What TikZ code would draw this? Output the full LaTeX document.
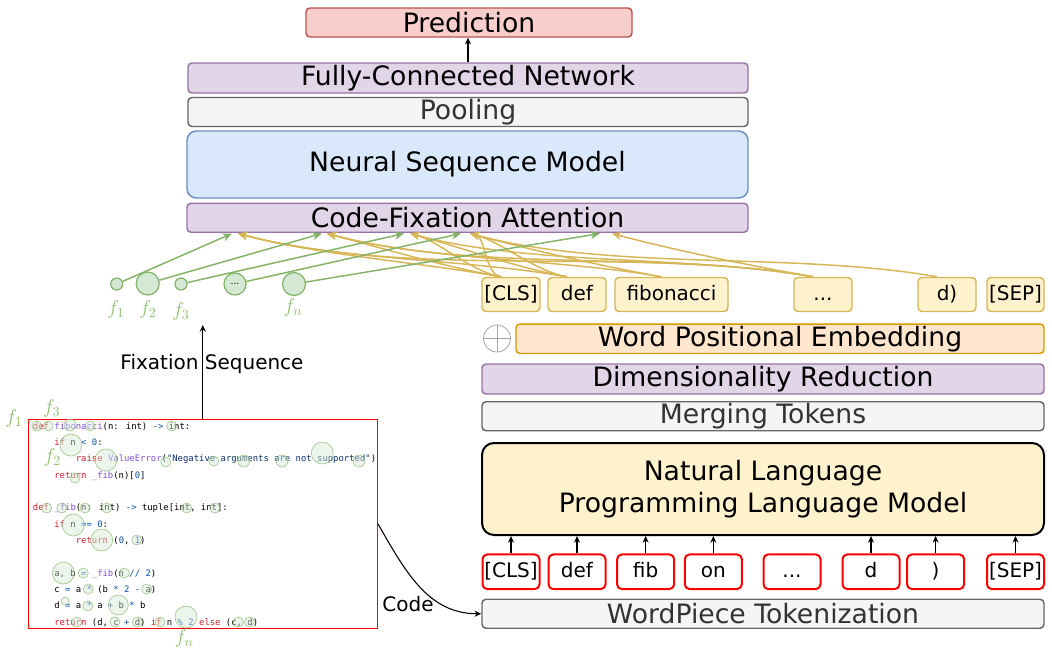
\RequirePackage{fix-cm}
\documentclass[tikz,border=0pt]{standalone}
\usepackage[no-math]{fontspec}
\setmainfont{DejaVu Sans}
\newfontfamily\codefont{DejaVu Sans Mono}
\usetikzlibrary{arrows.meta,calc}
\definecolor{purF}{HTML}{E1D5E7}\definecolor{purS}{HTML}{9673A6}
\definecolor{predF}{HTML}{F8CECC}\definecolor{predS}{HTML}{B85450}
\definecolor{grayF}{HTML}{F5F5F5}\definecolor{grayS}{HTML}{666666}\definecolor{grayT}{HTML}{333333}
\definecolor{blueF}{HTML}{DAE8FC}\definecolor{blueS}{HTML}{6C8EBF}
\definecolor{orgF}{HTML}{FFE6CC}\definecolor{orgS}{HTML}{D79B00}
\definecolor{yelF}{HTML}{FFF2CC}\definecolor{yelS}{HTML}{D6B656}
\definecolor{grnF}{HTML}{D5E8D4}\definecolor{grnS}{HTML}{82B366}\definecolor{grnT}{HTML}{8DC26F}
\definecolor{redS}{HTML}{FF0000}
\definecolor{kwc}{HTML}{CF222E}\definecolor{fnc}{HTML}{8250DF}
\definecolor{numc}{HTML}{0550AE}\definecolor{strc}{HTML}{0A3069}
\newcommand\ckw[1]{\textcolor{kwc}{#1}}
\newcommand\cfn[1]{\textcolor{fnc}{#1}}
\newcommand\cnum[1]{\textcolor{numc}{#1}}
\newcommand\cstr[1]{\textcolor{strc}{#1}}
\begin{document}
\begin{tikzpicture}[x=0.75pt,y=-0.75pt,
  box/.style={draw, rounded corners=3pt, line width=1.1pt, inner sep=0pt,
    font=\fontsize{20}{24}\selectfont},
  purbox/.style={box, fill=purF, draw=purS},
  graybox/.style={box, fill=grayF, draw=grayS, text=grayT},
  ytok/.style={draw=yelS, fill=yelF, rounded corners=3pt, line width=1.1pt, inner sep=0pt,
    minimum width=43.5pt, minimum height=25.5pt, text height=11.5pt, text depth=3pt,
    font=\fontsize{15}{18}\selectfont},
  rtok/.style={draw=redS, fill=white, rounded corners=3.5pt, line width=1.5pt, inner sep=0pt,
    minimum width=42.75pt, minimum height=25.9pt, text height=11.5pt, text depth=3pt,
    font=\fontsize{15}{18}\selectfont},
  fixc/.style={circle, draw=grnS, fill=grnF, line width=0.9pt, inner sep=0pt},
  flab/.style={text=grnT, inner sep=0pt, font=\fontsize{15}{18}\selectfont},
  lbl/.style={inner sep=0pt, font=\fontsize{15}{18}\selectfont},
  arr/.style={draw=black, line width=0.8pt, -{Stealth[length=5pt,width=4.5pt]}},
  garr/.style={draw=grnS, line width=1.1pt, -{Stealth[length=7pt,width=6pt,inset=2pt]}},
  att/.style={draw=yelS, line width=1.1pt, -{Stealth[length=7pt,width=6pt,inset=2pt]}},
  codeln/.style={anchor=base west, inner sep=0pt, font=\codefont\fontsize{6.68}{8}\selectfont},
  cfix/.style={draw=grnS, fill=grnF, line width=0.5pt, fill opacity=0.45, draw opacity=0.7}
]
\useasboundingbox (0,0) rectangle (1052,654);

% ---- top stack
\node[box, fill=predF, draw=predS, minimum width=244.5pt, minimum height=21.75pt] (pred) at (469,22.5) {Prediction};
\node[purbox, minimum width=420pt, minimum height=22.5pt] (fcn) at (468,78) {Fully-Connected Network};
\node[graybox, minimum width=420pt, minimum height=21.75pt] (pool) at (468,112) {Pooling};
\node[box, fill=blueF, draw=blueS, rounded corners=7pt, minimum width=420.75pt, minimum height=50.25pt] (nsm) at (467.5,164.5) {Neural Sequence Model};
\node[purbox, minimum width=420.75pt, minimum height=21.75pt] (cfa) at (467.5,217.75) {Code-Fixation Attention};
\draw[arr] (fcn.north) -- (fcn.north |- pred.south);

% ---- targets on attention block
\coordinate (tg1) at (232,233.5);
\coordinate (tg2) at (322,233.5);
\coordinate (tg3) at (404,233.5);
\coordinate (tg4) at (461,233.5);
\coordinate (tg5) at (600,233.5);
\coordinate (ty1) at (238,233.5);
\coordinate (ty2) at (327,233.5);
\coordinate (ty3) at (410,233.5);
\coordinate (ty4) at (470,233.5);
\coordinate (ty5) at (612,233.5);

% ---- fixation circles
\node[fixc, minimum size=9pt] (fx1) at (116.7,284) {};
\node[fixc, minimum size=17.25pt] (fx2) at (147.7,283.5) {};
\node[fixc, minimum size=9pt] (fx3) at (181,284) {};
\node[fixc, minimum size=16.5pt, font=\fontsize{7}{8}\selectfont] (fxd) at (235,284) {...};
\node[fixc, minimum size=17.25pt] (fxn) at (294,284) {};
\node[flab] (lf1) at (116,309) {$f_1$};
\node[flab] (lf2) at (148,309) {$f_2$};
\node[flab] (lf3) at (181,311) {$f_3$};
\node[flab] (lfn) at (293,307) {$f_n$};

% ---- word tokens (yellow)
\node[ytok] (ycls) at (511,294.5) {[CLS]};
\node[ytok] (ydef) at (577,294.5) {def};
\node[ytok, minimum width=84.75pt] (yfib) at (671.5,294.5) {fibonacci};
\node[ytok] (ydots) at (823,294.5) {...};
\node[ytok] (yd) at (947,294.5) {d)};
\node[ytok, minimum width=42.75pt] (ysep) at (1015.5,294.5) {[SEP]};

% ---- attention connectors (yellow)
\foreach \s/\t in {ycls/ty1, ycls/ty2, ycls/ty3, ycls/ty4,
                   ydef/ty1, ydef/ty3, ydef/ty4,
                   yfib/ty2, yfib/ty4,
                   ydots/ty1, ydots/ty2, ydots/ty3, ydots/ty5,
                   yd/ty4}
  \draw[att] ($(\s.north)+(-10,0)$) to[out=170,in=-15,looseness=0.8] (\t);

% ---- fixation connectors (green)
\draw[garr] (fx1) -- (tg1);
\draw[garr] (fx2) -- (tg2);
\draw[garr] (fx3) -- (tg3);
\draw[garr] (fxd) -- (tg4);
\draw[garr] (fxn) -- (tg5);

% ---- right stack
\node[circle, draw=gray!70, line width=0.6pt, minimum size=20.25pt, inner sep=0pt] (op) at (497,338.5) {};
\draw[gray!70, line width=0.6pt] (op.north) -- (op.south) (op.west) -- (op.east);
\node[box, fill=orgF, draw=orgS, minimum width=396pt, minimum height=22.1pt] (wpe) at (780,338.75) {Word Positional Embedding};
\node[purbox, minimum width=421.5pt, minimum height=22.5pt] (dr) at (763,379) {Dimensionality Reduction};
\node[graybox, minimum width=421.5pt, minimum height=21.75pt] (merge) at (763,416.25) {Merging Tokens};
\node[box, fill=yelF, draw=black, line width=1.5pt, rounded corners=9pt, minimum width=421.5pt, minimum height=69pt,
  align=center, font=\fontsize{20}{23.5}\selectfont] (nlpl) at (763,489) {Natural Language\\Programming Language Model};

% ---- subword tokens (red)
\node[rtok] (rcls) at (511,571.75) {[CLS]};
\node[rtok] (rdef) at (577,571.75) {def};
\node[rtok] (rfib) at (645.6,571.75) {fib};
\node[rtok] (ron) at (713.3,571.75) {on};
\node[rtok] (rdots) at (792,571.75) {...};
\node[rtok] (rd) at (871,571.75) {d};
\node[rtok] (rpar) at (935.6,571.75) {)};
\node[rtok] (rsep) at (1015.5,571.75) {[SEP]};
\foreach \n in {rcls,rdef,rfib,ron,rd,rpar,rsep}
  \draw[arr] (\n.north) -- (\n.north |- nlpl.south);
\node[graybox, minimum width=421.5pt, minimum height=21.75pt] (wp) at (763,613.75) {WordPiece Tokenization};

% ---- code panel
\node[draw=redS, line width=1.1pt, minimum width=261.75pt, minimum height=157pt, inner sep=0pt] (codebox) at (202.8,524) {};
\node[codeln] (c1) at (32.7,429) {\ckw{def} \cfn{fibonacci}(n: int) \cnum{->} int:};
\node[codeln] (c2) at (54.1,445.3) {\ckw{if} n \cnum{<} \cnum{0}:};
\node[codeln] (c3) at (75.6,461.7) {\ckw{raise} \cfn{ValueError}(\cstr{"Negative arguments are not supported"})};
\node[codeln] (c4) at (54.1,478) {\ckw{return} \cfn{\_fib}(n)[\cnum{0}]};
\node[codeln] (c6) at (32.7,510.7) {\ckw{def} \cfn{\_fib}(n: int) \cnum{->} tuple[int, int]:};
\node[codeln] (c7) at (54.1,527) {\ckw{if} n \cnum{==} \cnum{0}:};
\node[codeln] (c8) at (75.6,543.3) {\ckw{return} (\cnum{0}, \cnum{1})};
\node[codeln] (c10) at (54.1,576) {a, b \cnum{=} \cfn{\_fib}(n \cnum{//} \cnum{2})};
\node[codeln] (c11) at (54.1,592.3) {c \cnum{=} a \cnum{*} (b \cnum{*} \cnum{2} \cnum{-} a)};
\node[codeln] (c12) at (54.1,608.7) {d \cnum{=} a \cnum{*} a \cnum{+} b \cnum{*} b};
\node[codeln] (c13) at (54.1,625) {\ckw{return} (d, c \cnum{+} d) \ckw{if} n \cnum{\%} \cnum{2} \ckw{else} (c, d)};
\foreach \x/\y/\r in {36.7/426/3.75, 48.3/426/3.75, 70/425/4.5, 90/426/3.75, 171.7/426/3.75,
  71/445/8.25,
  106/460/8.25, 165.7/462/3.75, 213.7/461/3.75, 243.7/461/4.5, 282/461/4.5, 322.3/453/8.25, 359/461/4.5,
  75/478/3.75,
  46.7/508/3.75, 61.7/508/3.75, 85/508/3.75, 106.7/508/3.75, 186.7/508/3.75, 215/508/3.75,
  73.3/525/8.25,
  101.7/540/8.25, 136.7/540/3.75,
  63.3/573/8.25, 83.3/573/3.75, 124.3/573/3.75,
  88.3/589/3.75, 146.7/589/3.75,
  65/601/3, 87.7/606/3.75, 118.3/605/7.5,
  76.7/622/3.75, 115/622/3.75, 137.3/622/3.75, 160/622/3.75, 186/617/8.25, 238.3/622/3.75, 249.3/622/3.75}
  \path[cfix] (\x,\y) circle[radius=\r pt];
\node[flab] (cf1) at (14,418) {$f_1$};
\node[flab] (cf3) at (51.7,408) {$f_3$};
\node[flab] (cf2) at (52.3,457) {$f_2$};
\node[flab] (cfn) at (184.3,638) {$f_n$};

% ---- panel connectors
\coordinate (fsend) at (202.8,325);
\draw[arr] (codebox.north) -- (fsend);
\node[lbl] (fslab) at (212,364) {Fixation Sequence};
\draw[arr] (codebox.east) to[out=-60,in=180] (wp.west);
\node[lbl] (codelab) at (408,604) {Code};
\end{tikzpicture}
\end{document}
